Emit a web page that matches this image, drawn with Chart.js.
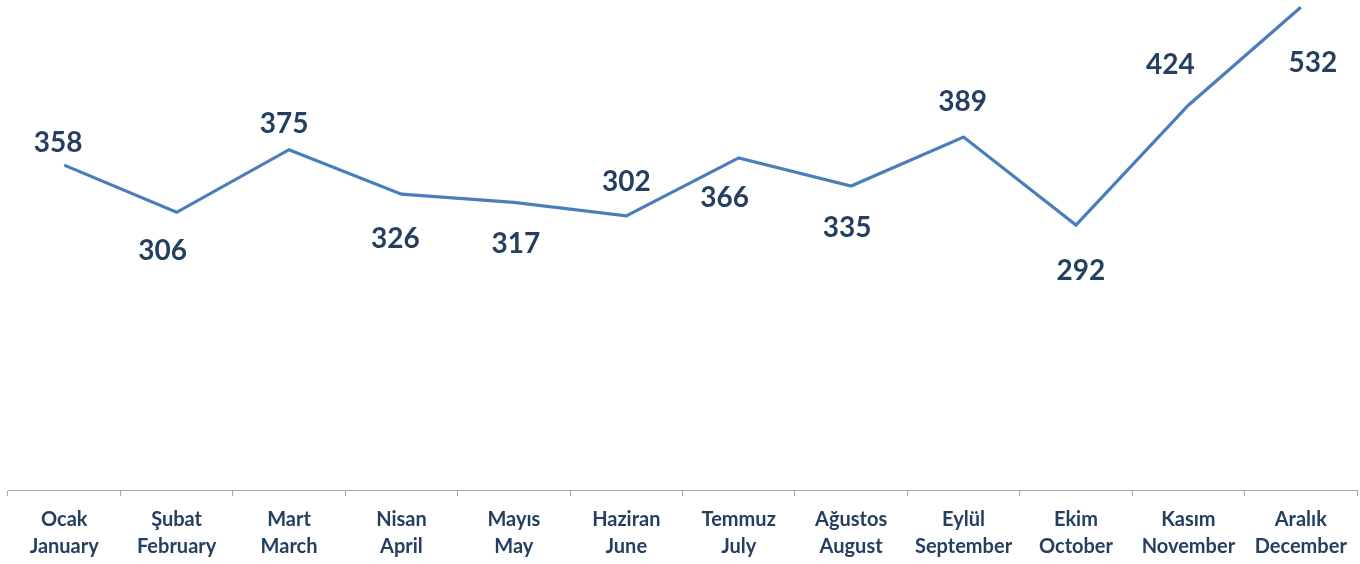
<!DOCTYPE html>
<html>
<head>
<meta charset="utf-8">
<script src="https://cdn.jsdelivr.net/npm/chart.js@4"></script>
<style>
html,body{margin:0;padding:0;background:#fff;}
#wrap{width:1360px;height:564px;position:relative;}
</style>
</head>
<body>
<div id="wrap"><canvas id="c"></canvas></div>
<script>
const monthsTr = ['Ocak','Şubat','Mart','Nisan','Mayıs','Haziran','Temmuz','Ağustos','Eylül','Ekim','Kasım','Aralık'];
const monthsEn = ['January','February','March','April','May','June','July','August','September','October','November','December'];
const values = [358,306,375,326,317,302,366,335,389,292,424,532];

// label placement relative to each point (style only)
const labelNudgeX = [-6,-14,-5,-6,2,0,-14,-4,-1,5,-18,12];
const labelNudgeY = [-22,39,-26,45,42,-34,40,42,-35,46,-40,56];

const textColor = '#243F60';
const lineColor = '#4A7EBB';

const valueLabels = {
  id: 'valueLabels',
  afterDatasetsDraw(chart) {
    const ctx = chart.ctx;
    const meta = chart.getDatasetMeta(0);
    ctx.save();
    ctx.font = 'bold 28px Lato';
    ctx.fillStyle = textColor;
    ctx.textAlign = 'center';
    ctx.textBaseline = 'middle';
    meta.data.forEach((pt, i) => {
      ctx.fillText(String(values[i]), pt.x + labelNudgeX[i], pt.y + labelNudgeY[i]);
    });
    ctx.restore();
  }
};

new Chart(document.getElementById('c'), {
  type: 'line',
  data: {
    labels: monthsTr.map((t, i) => [t, monthsEn[i]]),
    datasets: [{
      data: values,
      borderColor: lineColor,
      borderWidth: 3.2,
      pointRadius: 0,
      tension: 0,
      fill: false,
      clip: false
    }]
  },
  options: {
    responsive: true,
    maintainAspectRatio: false,
    animation: false,
    layout: { padding: { left: 8, right: 3, top: 0, bottom: -6 } },
    plugins: { legend: { display: false }, tooltip: { enabled: false } },
    scales: {
      y: { display: false, min: 0, max: 540 },
      x: {
        offset: true,
        border: { display: true, color: '#A6A6A6', width: 1 },
        grid: { display: true, drawOnChartArea: false, drawTicks: true, tickLength: 6, color: '#A6A6A6', offset: true },
        ticks: {
          color: textColor,
          font: { family: 'Lato', size: 20, weight: 'bold', lineHeight: 1.35 },
          padding: 10,
          maxRotation: 0,
          autoSkip: false
        }
      }
    }
  },
  plugins: [valueLabels]
});
</script>
</body>
</html>
